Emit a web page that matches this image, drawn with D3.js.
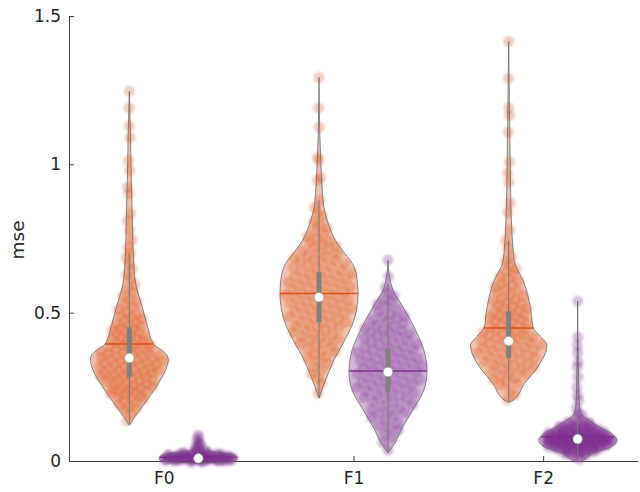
<!DOCTYPE html>
<html><head><meta charset="utf-8">
<script src="https://cdn.jsdelivr.net/npm/d3@7"></script>
<style>body{margin:0;background:#fff}svg{display:block}</style>
</head><body>
<svg id="c" width="640" height="492"></svg>
<script>
const categories = ["F0", "F1", "F2"];
const groups = ["A", "B"];
const groupColors = ["#D95319", "#7E2F8E"];
const yTicks = [0, 0.5, 1, 1.5];
const yTickLabels = ["0", "0.5", "1", "1.5"];
const yLabel = "mse";

// violin outlines: [value, relative half-width]
const profF0A = [[0.121,0],[0.13,0.05],[0.149,0.14],[0.183,0.33],[0.229,0.58],[0.273,0.8],[0.317,0.96],[0.34,1.0],[0.36,0.95],[0.374,0.82],[0.394,0.62],[0.452,0.47],[0.519,0.33],[0.6,0.16],[0.677,0.11],[0.744,0.09],[0.85,0.07],[0.95,0.05],[1.1,0.03],[1.246,0]];
const profF0B = [[-0.008,0],[-0.004,0.5],[0.0,0.95],[0.01,1.0],[0.02,0.95],[0.028,0.6],[0.036,0.2],[0.05,0.1],[0.06,0.07],[0.087,0]];
const profF1A = [[0.212,0],[0.249,0.1],[0.296,0.24],[0.35,0.42],[0.407,0.66],[0.485,0.92],[0.566,1.0],[0.633,0.95],[0.677,0.8],[0.7,0.66],[0.744,0.42],[0.8,0.24],[0.86,0.12],[0.9,0.09],[1.0,0.05],[1.1,0.02],[1.293,0]];
const profF1B = [[0.027,0],[0.061,0.18],[0.115,0.38],[0.172,0.64],[0.239,0.92],[0.3,1.0],[0.374,0.92],[0.451,0.67],[0.519,0.39],[0.576,0.13],[0.62,0.04],[0.677,0]];
const profF2A = [[0.198,0],[0.205,0.11],[0.262,0.41],[0.318,0.75],[0.368,0.95],[0.39,0.98],[0.419,0.82],[0.452,0.62],[0.497,0.58],[0.553,0.5],[0.609,0.37],[0.666,0.16],[0.734,0.1],[0.778,0.08],[0.85,0.06],[1.0,0.04],[1.2,0.02],[1.414,0]];
const profF2B = [[-0.003,0],[0.003,0.13],[0.027,0.41],[0.047,0.85],[0.07,1.0],[0.094,0.85],[0.115,0.56],[0.138,0.3],[0.15,0.15],[0.172,0.06],[0.2,0.04],[0.3,0.02],[0.539,0]];

const ptsF0A = [0.135,0.158,0.171,0.177,0.183,0.19,0.196,0.203,0.208,0.212,0.215,0.219,0.224,0.227,0.231,0.233,0.236,0.239,0.242,0.245,0.248,0.251,0.254,0.257,0.26,0.263,0.266,0.268,0.271,0.274,0.277,0.279,0.282,0.285,0.287,0.29,0.292,0.295,0.297,0.299,0.301,0.303,0.306,0.308,0.311,0.313,0.316,0.318,0.32,0.323,0.325,0.328,0.331,0.333,0.336,0.338,0.34,0.343,0.345,0.347,0.349,0.352,0.354,0.357,0.36,0.362,0.365,0.368,0.37,0.373,0.376,0.379,0.381,0.384,0.387,0.39,0.393,0.396,0.399,0.403,0.406,0.41,0.414,0.417,0.421,0.425,0.429,0.433,0.437,0.441,0.445,0.448,0.453,0.458,0.463,0.468,0.473,0.479,0.484,0.49,0.496,0.503,0.511,0.519,0.527,0.536,0.545,0.556,0.568,0.581,0.594,0.612,0.628,0.648,0.665,0.685,0.70,0.72,0.745,0.778,0.81,0.835,0.9,0.922,0.98,1.013,1.09,1.13,1.19,1.246];
const ptsF0B = [-0.004,-0.002,-0.001,0.0,0.001,0.001,0.002,0.002,0.003,0.003,0.004,0.004,0.005,0.005,0.006,0.006,0.007,0.007,0.008,0.008,0.009,0.009,0.009,0.01,0.01,0.011,0.011,0.012,0.012,0.013,0.013,0.014,0.014,0.015,0.015,0.016,0.017,0.018,0.019,0.02,0.021,0.022,0.023,0.025,0.027,0.029,0.032,0.035,0.039,0.044,0.05,0.056,0.063,0.071,0.08,0.087,0.0,0.002,0.003,0.004,0.005,0.006,0.007,0.008,0.009,0.01,0.011,0.012,0.013,0.014,0.015,0.016,0.017,0.018,0.019,0.02,0.021,0.022,0.024,0.026,0.028,0.03,0.001,-0.003,0.045,0.06];
const ptsF1A = [0.228,0.262,0.279,0.293,0.306,0.317,0.328,0.337,0.346,0.353,0.36,0.367,0.373,0.38,0.386,0.392,0.397,0.402,0.407,0.411,0.416,0.42,0.425,0.43,0.434,0.439,0.443,0.448,0.452,0.455,0.459,0.463,0.467,0.471,0.474,0.478,0.482,0.486,0.489,0.493,0.497,0.501,0.504,0.508,0.511,0.515,0.518,0.522,0.525,0.529,0.532,0.536,0.539,0.543,0.547,0.55,0.553,0.557,0.56,0.563,0.567,0.57,0.573,0.577,0.58,0.583,0.587,0.59,0.593,0.597,0.601,0.604,0.608,0.611,0.615,0.618,0.622,0.625,0.629,0.632,0.636,0.64,0.643,0.647,0.652,0.656,0.66,0.664,0.668,0.672,0.676,0.68,0.685,0.689,0.693,0.697,0.703,0.708,0.714,0.72,0.725,0.731,0.737,0.742,0.748,0.757,0.766,0.776,0.785,0.795,0.808,0.824,0.84,0.855,0.878,0.946,0.956,1.013,1.024,1.125,1.19,1.293];
const ptsF1B = [0.036,0.062,0.078,0.092,0.104,0.112,0.12,0.128,0.137,0.145,0.152,0.158,0.163,0.169,0.174,0.179,0.185,0.19,0.196,0.202,0.206,0.21,0.214,0.218,0.222,0.226,0.231,0.235,0.239,0.243,0.247,0.251,0.254,0.258,0.261,0.265,0.268,0.272,0.275,0.279,0.282,0.286,0.289,0.293,0.297,0.301,0.304,0.307,0.311,0.314,0.317,0.321,0.324,0.327,0.331,0.334,0.337,0.341,0.344,0.347,0.352,0.355,0.359,0.362,0.366,0.369,0.373,0.376,0.38,0.384,0.387,0.391,0.394,0.398,0.403,0.407,0.411,0.415,0.419,0.423,0.428,0.432,0.436,0.44,0.444,0.448,0.453,0.458,0.464,0.469,0.474,0.48,0.485,0.49,0.496,0.504,0.512,0.521,0.529,0.538,0.546,0.556,0.57,0.585,0.622,0.677];
const ptsF2A = [0.206,0.222,0.238,0.256,0.262,0.268,0.274,0.28,0.286,0.292,0.297,0.303,0.307,0.311,0.315,0.319,0.323,0.327,0.331,0.335,0.339,0.343,0.347,0.351,0.354,0.357,0.361,0.364,0.367,0.371,0.374,0.377,0.381,0.384,0.387,0.391,0.394,0.397,0.401,0.404,0.407,0.411,0.414,0.417,0.421,0.424,0.427,0.431,0.434,0.437,0.441,0.444,0.447,0.452,0.456,0.46,0.464,0.467,0.471,0.475,0.479,0.483,0.487,0.491,0.494,0.498,0.503,0.507,0.512,0.516,0.521,0.525,0.53,0.535,0.539,0.544,0.548,0.555,0.561,0.567,0.574,0.58,0.587,0.593,0.598,0.606,0.614,0.622,0.631,0.64,0.648,0.66,0.675,0.69,0.72,0.745,0.778,0.838,0.869,0.94,0.97,1.007,1.108,1.165,1.19,1.29,1.414];
const ptsF2B = [0.006,0.013,0.018,0.021,0.024,0.027,0.029,0.031,0.032,0.034,0.035,0.036,0.038,0.039,0.041,0.042,0.043,0.044,0.045,0.046,0.047,0.048,0.049,0.05,0.051,0.052,0.053,0.054,0.055,0.056,0.057,0.058,0.059,0.0595,0.06,0.061,0.062,0.063,0.064,0.0645,0.065,0.066,0.067,0.068,0.0685,0.069,0.07,0.071,0.072,0.073,0.0735,0.074,0.075,0.076,0.0765,0.077,0.078,0.079,0.08,0.081,0.082,0.083,0.084,0.0845,0.085,0.086,0.087,0.088,0.089,0.09,0.091,0.092,0.093,0.094,0.095,0.096,0.097,0.099,0.101,0.102,0.104,0.105,0.106,0.108,0.109,0.111,0.113,0.115,0.117,0.119,0.122,0.125,0.128,0.132,0.137,0.145,0.154,0.162,0.178,0.205,0.222,0.249,0.283,0.317,0.333,0.364,0.39,0.418,0.539,0.025,0.033,0.037,0.04,0.043,0.046,0.048,0.05,0.052,0.054,0.056,0.058,0.06,0.061,0.062,0.063,0.065,0.066,0.067,0.068,0.07,0.071,0.072,0.073,0.074,0.075,0.076,0.077,0.078,0.079,0.08,0.081,0.082,0.083,0.085,0.086,0.087,0.088,0.09,0.092,0.094,0.096,0.098,0.1,0.103,0.107,0.11,0.114,0.118,0.124,0.13];

// summary statistics per category: [group A, group B]
const medians = [[0.347, 0.009], [0.552, 0.300], [0.404, 0.074]];
const means = [[0.394, 0.013], [0.565, 0.303], [0.448, 0.082]];
const q1s = [[0.283, 0.004], [0.468, 0.232], [0.347, 0.058]];
const q3s = [[0.451, 0.016], [0.636, 0.380], [0.505, 0.092]];
const whiskLo = [[0.121, -0.005], [0.212, 0.027], [0.199, 0.006]];
const whiskHi = [[0.700, 0.030], [0.880, 0.600], [0.742, 0.140]];

const profiles = [[profF0A, profF0B], [profF1A, profF1B], [profF2A, profF2B]];
const points = [[ptsF0A, ptsF0B], [ptsF1A, ptsF1B], [ptsF2A, ptsF2B]];

const svg = d3.select("#c");
const y = d3.scaleLinear().domain([0, 1.5]).range([461, 16]);
const x = d3.scalePoint().domain(categories).range([69, 638]).padding(0.5);
const xg = d3.scaleBand().domain(groups).range([-69, 69]);
const halfW = 39;
const axisColor = "#404040";
const textColor = "#262626";
const font = "DejaVu Sans, sans-serif";

svg.append("defs").append("filter").attr("id", "soft")
  .attr("x", "-20%").attr("y", "-20%").attr("width", "140%").attr("height", "140%")
  .append("feGaussianBlur").attr("stdDeviation", 1.1);

// axes
const ya = svg.append("g").attr("transform", "translate(69,0)")
  .call(d3.axisLeft(y).tickValues(yTicks).tickFormat((d, i) => yTickLabels[i])
    .tickSizeInner(-5).tickSizeOuter(0).tickPadding(8));
const xa = svg.append("g").attr("transform", "translate(0,461)")
  .call(d3.axisBottom(x).tickSizeInner(-5).tickSizeOuter(0).tickPadding(11));
[ya, xa].forEach(a => {
  a.selectAll("path, line").attr("stroke", axisColor);
  a.selectAll("text").attr("fill", textColor).style("font-family", font).style("font-size", "17px");
});

svg.append("text").attr("transform", "translate(24,240) rotate(-90)")
  .attr("text-anchor", "middle").attr("fill", textColor)
  .style("font-family", font).style("font-size", "18.5px").text(yLabel);

const plot = svg.append("g");
categories.forEach((cat, ci) => {
  groups.forEach((g, gi) => {
    const cx = x(cat) + xg(g) + xg.bandwidth() / 2;
    const col = groupColors[gi];
    const prof = profiles[ci][gi].slice().sort((a, b) => a[0] - b[0]);
    const wScale = d3.scaleLinear().domain(prof.map(d => d[0])).range(prof.map(d => d[1])).clamp(true);
    const pts = points[ci][gi];

    const area = d3.area().curve(d3.curveMonotoneY)
      .y(d => y(d[0])).x0(d => cx - d[1] * halfW).x1(d => cx + d[1] * halfW);
    plot.append("path").datum(prof).attr("d", area)
      .attr("fill", col).attr("fill-opacity", 0.35).attr("stroke", "none");

    plot.append("g").attr("filter", "url(#soft)")
      .selectAll("circle").data(pts).join("circle")
      .attr("cx", (v, i) => {
        const u = ((i * 0.6180339887 + gi * 0.31 + ci * 0.17) % 1) * 2 - 1;
        return cx + u * wScale(v) * halfW * 0.9;
      })
      .attr("cy", v => y(v))
      .attr("r", 5.5)
      .attr("fill", col)
      .attr("fill-opacity", 0.3);

    plot.append("path").datum(prof).attr("d", area)
      .attr("fill", "none")
      .attr("stroke", "#6a6a6a").attr("stroke-width", 0.8);

    plot.append("line").attr("x1", cx).attr("x2", cx)
      .attr("y1", y(whiskLo[ci][gi])).attr("y2", y(whiskHi[ci][gi]))
      .attr("stroke", "#777").attr("stroke-width", 1);

    const m = means[ci][gi];
    const mw = wScale(m) * halfW;
    plot.append("line").attr("x1", cx - mw).attr("x2", cx + mw)
      .attr("y1", y(m)).attr("y2", y(m))
      .attr("stroke", col).attr("stroke-width", 1.5);

    plot.append("line").attr("x1", cx).attr("x2", cx)
      .attr("y1", y(q1s[ci][gi])).attr("y2", y(q3s[ci][gi]))
      .attr("stroke", "#808080").attr("stroke-width", 5);

    plot.append("circle").attr("cx", cx).attr("cy", y(medians[ci][gi]))
      .attr("r", 4.8).attr("fill", "#fff").attr("stroke", "#808080").attr("stroke-width", 0.5);
  });
});
</script>
</body></html>
